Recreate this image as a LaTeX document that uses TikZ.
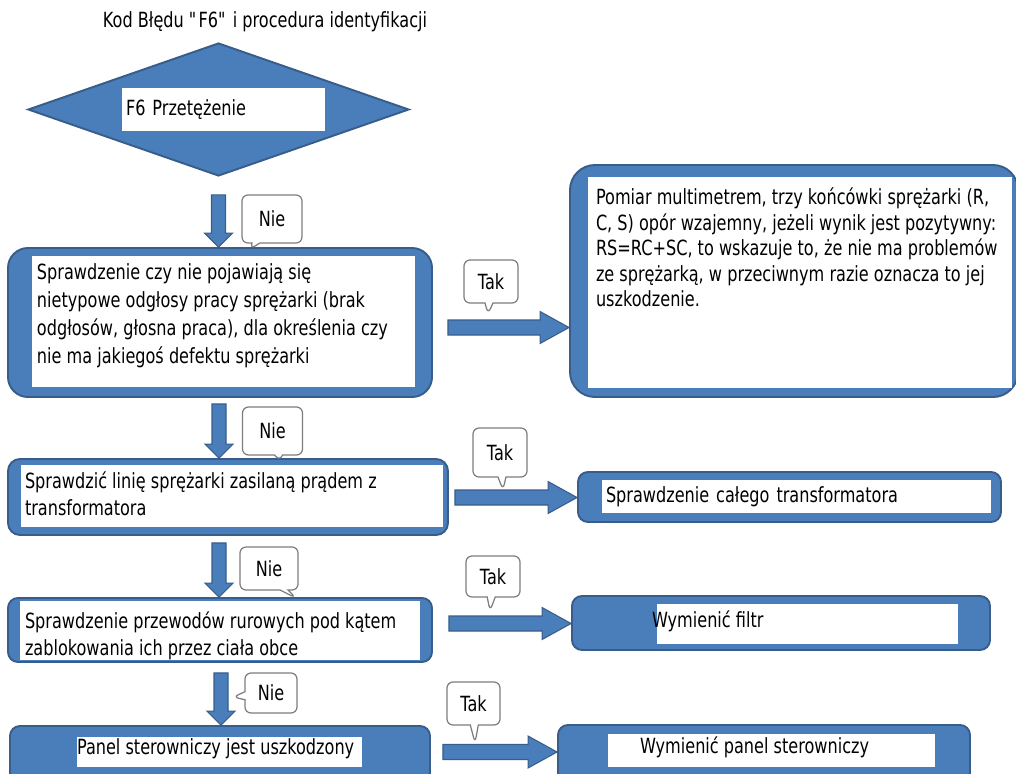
\documentclass[tikz,border=0pt]{standalone}
\usepackage{fontspec}
\setmainfont{DejaVu Sans}[FakeStretch=0.77]
\usetikzlibrary{shapes.geometric,shapes.callouts,calc}

\definecolor{bluefill}{RGB}{74,126,187}
\definecolor{blueline}{RGB}{56,93,138}
\definecolor{bubbleline}{RGB}{125,125,125}

\newlength{\pxl}
\setlength{\pxl}{0.2mm}

\begin{document}
\begin{tikzpicture}[x=0.2mm, y=-0.2mm]
	\tikzstyle{every node} = [font=\fontsize{11.9pt}{15.3pt}\selectfont]
	\tikzstyle{bluebox} = [rectangle, draw=blueline, fill=bluefill, line width=1.1pt]
	\tikzstyle{whitebox} = [rectangle, fill=white, inner ysep=0pt, inner xsep=0.8mm, align=left]
	\tikzstyle{txt} = [align=left, inner sep=0pt]
	\tikzstyle{bubble} = [rectangle callout, draw=bubbleline, fill=white, line width=0.7pt,
		rounded corners=1.2mm, callout pointer width=1.6mm, inner sep=0pt]
	% fat arrow between two points: shaft half width, head half width, head length
	\tikzset{block arrow/.style n args={3}{draw=blueline, fill=bluefill, line width=0.6pt,
		to path={let \p1=(\tikztostart), \p2=(\tikztotarget),
			\n1={atan2(\y2-\y1,\x2-\x1)}, \n2={veclen(\x2-\x1,\y2-\y1)} in
			{[shift={(\p1)}, rotate=\n1]
			(0pt,-#1) -- (\n2-#3,-#1) -- (\n2-#3,-#2) -- (\n2,0pt)
			-- (\n2-#3,#2) -- (\n2-#3,#1) -- (0pt,#1) -- cycle}}}}
	\tikzstyle{vblock} = [block arrow={7*\pxl}{14*\pxl}{14*\pxl}]
	\tikzstyle{hblock} = [block arrow={7.5*\pxl}{16*\pxl}{29*\pxl}]

	\useasboundingbox (0,0) rectangle (1016,773);
	\clip (0,0) rectangle (1016,773);

	\node (title) at (265,22) {Kod Błędu \textquotedbl F6\textquotedbl{} i procedura identyfikacji};

	% decision
	\node[diamond, draw=blueline, fill=bluefill, line width=1.1pt, inner sep=0pt,
		minimum width=381*\pxl, minimum height=133*\pxl] (f6) at (218.5,109.5) {};
	\node[whitebox, text width=195*\pxl, minimum height=43*\pxl] (f6w) at (223.5,109.5) {F6 Przetężenie};

	% left column
	\node[bluebox, rounded corners=4mm, minimum width=424*\pxl, minimum height=149*\pxl] (bx1) at (220,322.5) {};
	\node[whitebox, minimum width=383*\pxl, minimum height=131*\pxl] (bx1w) at (223.5,321.5) {};
	\node[txt, anchor=north west, font=\fontsize{11.9pt}{15.9pt}\selectfont] (bx1t) at ($(bx1w.north west)+(5,8)$)
		{Sprawdzenie czy nie pojawiają się\\nietypowe odgłosy pracy sprężarki (brak\\odgłosów, głosna praca), dla określenia czy\\nie ma jakiegoś defektu sprężarki};

	\node[bluebox, rounded corners=2.4mm, minimum width=440*\pxl, minimum height=76*\pxl] (bx2) at (228,497) {};
	\node[whitebox, minimum width=422*\pxl, minimum height=62*\pxl] (bx2w) at (232,496) {};
	\node[txt, anchor=north west] (bx2t) at ($(bx2w.north west)+(4,7)$)
		{Sprawdzić linię sprężarki zasilaną prądem z\\transformatora};

	\node[bluebox, rounded corners=2mm, minimum width=424*\pxl, minimum height=64*\pxl] (bx3) at (220,630) {};
	\node[whitebox, minimum width=400*\pxl, minimum height=59*\pxl] (bx3w) at (220,630.5) {};
	\node[txt, anchor=north west] (bx3t) at ($(bx3w.north west)+(5,11)$)
		{Sprawdzenie przewodów rurowych pod kątem\\zablokowania ich przez ciała obce};

	\node[bluebox, rounded corners=2mm, minimum width=420*\pxl, minimum height=74*\pxl] (bx4) at (220,763) {};
	\node[whitebox, minimum width=285*\pxl, minimum height=30*\pxl] (bx4w) at (219.5,752) {};
	\node[txt, anchor=west] (bx4t) at ($(bx4w.west)+(0,-3)$) {Panel sterowniczy jest uszkodzony};

	% right column
	\node[bluebox, rounded corners=5mm, minimum width=448*\pxl, minimum height=232*\pxl] (r1) at (794,281) {};
	\node[whitebox, minimum width=424*\pxl, minimum height=211*\pxl] (r1w) at (800,282.5) {};
	\node[txt, anchor=north west, font=\fontsize{11.9pt}{14.5pt}\selectfont] (r1t) at ($(r1w.north west)+(8,11)$)
		{Pomiar multimetrem, trzy końcówki sprężarki (R,\\C, S) opór wzajemny, jeżeli wynik jest pozytywny:\\RS=RC+SC, to wskazuje to, że nie ma problemów\\ze sprężarką, w przeciwnym razie oznacza to jej\\uszkodzenie.};

	\node[bluebox, rounded corners=2mm, minimum width=423*\pxl, minimum height=50*\pxl] (r2) at (789.5,497) {};
	\node[whitebox, text width=381*\pxl, minimum height=33*\pxl] (r2w) at (796.5,496.5) {Sprawdzenie całego transformatora};

	\node[bluebox, rounded corners=2mm, minimum width=418*\pxl, minimum height=54*\pxl] (r3) at (781,623) {};
	\node[whitebox, minimum width=301*\pxl, minimum height=40*\pxl] (r3w) at (807.5,624) {};
	\node[txt, anchor=west] (r3t) at ($(r3w.west)+(-5,-3)$) {Wymienić filtr};

	\node[bluebox, rounded corners=2mm, minimum width=412*\pxl, minimum height=75*\pxl] (r4) at (764,762.5) {};
	\node[whitebox, minimum width=327*\pxl, minimum height=33*\pxl] (r4w) at (771.5,750.5) {};
	\node[txt, anchor=west] (r4t) at ($(r4w.west)+(32,-3)$) {Wymienić panel sterowniczy};

	% arrows down (Nie)
	\coordinate (a1s) at ($(f6.south)+(0,18)$);
	\coordinate (a2s) at ($(bx1.south)+(-1,6)$);
	\coordinate (a3s) at ($(bx2.south)+(-9,7)$);
	\coordinate (a4s) at ($(bx3.south)+(1,10)$);
	\draw[vblock] (a1s) to (a1s |- bx1.north);
	\draw[vblock] (a2s) to (a2s |- bx2.north);
	\draw[vblock] (a3s) to (a3s |- bx3.north);
	\draw[vblock] (a4s) to (a4s |- bx4.north);

	% arrows right (Tak)
	\coordinate (h1s) at ($(bx1.east)+(15,5)$);
	\coordinate (h2s) at ($(bx2.east)+(6,0.5)$);
	\coordinate (h3s) at ($(bx3.east)+(16,-6.5)$);
	\coordinate (h4s) at ($(bx4.east)+(12,-11)$);
	\draw[hblock] (h1s) to (h1s -| r1.west);
	\draw[hblock] (h2s) to (h2s -| r2.west);
	\draw[hblock] (h3s) to (h3s -| r3.west);
	\draw[hblock] (h4s) to (h4s -| r4.west);

	% answer bubbles
	\node[bubble, minimum width=60*\pxl, minimum height=48*\pxl, callout absolute pointer={(250,249)}] (n1) at (272,219) {Nie};
	\node[bubble, minimum width=60*\pxl, minimum height=48*\pxl, callout absolute pointer={(280,461)}] (n2) at (272.5,431) {Nie};
	\node[bubble, minimum width=58*\pxl, minimum height=43*\pxl, callout absolute pointer={(296,598)}] (n3) at (269,568.5) {Nie};
	\node[bubble, minimum width=52*\pxl, minimum height=40*\pxl, callout absolute pointer={(233,697)}] (n4) at (271,693) {Nie};

	\node[bubble, minimum width=54*\pxl, minimum height=43*\pxl, callout absolute pointer={(488,314)}] (t1) at (491,281.5) {Tak};
	\node[bubble, minimum width=54*\pxl, minimum height=49*\pxl, callout absolute pointer={(503,490)}] (t2) at (500,452.5) {Tak};
	\node[bubble, minimum width=54*\pxl, minimum height=41*\pxl, callout absolute pointer={(490,611)}] (t3) at (493,576.5) {Tak};
	\node[bubble, minimum width=53*\pxl, minimum height=43*\pxl, callout absolute pointer={(475,743)}] (t4) at (473.5,703.5) {Tak};
\end{tikzpicture}
\end{document}
